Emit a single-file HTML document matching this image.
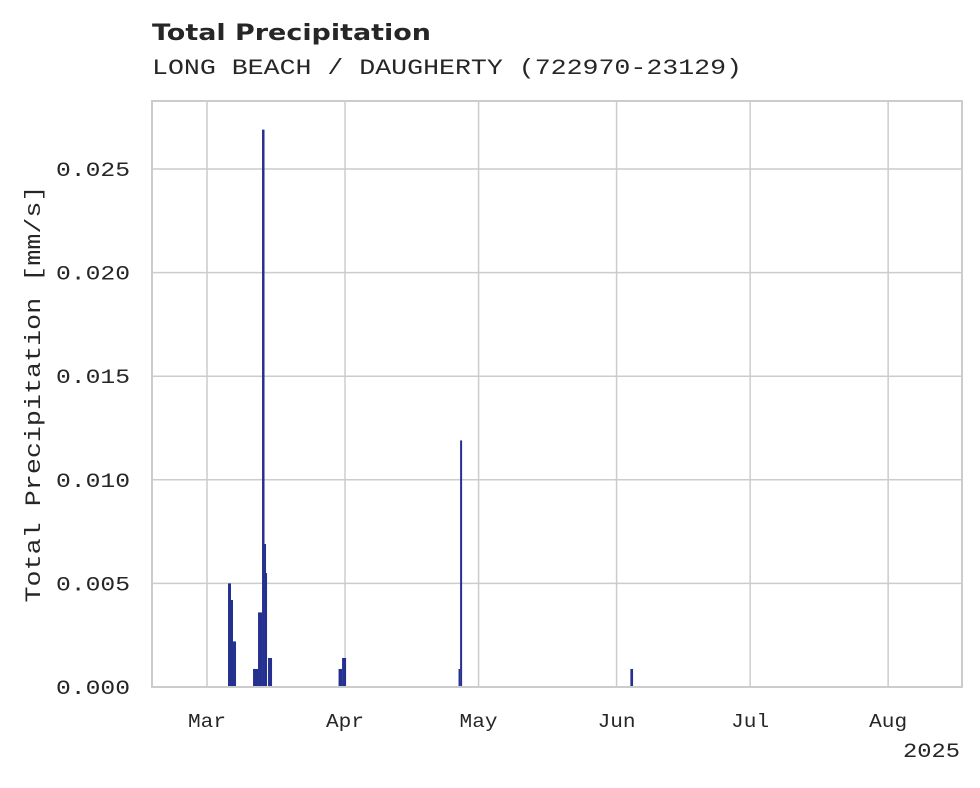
<!DOCTYPE html>
<html><head><meta charset="utf-8"><style>
body{margin:0;background:#fff;width:980px;height:783px;overflow:hidden}
text{font-family:"Liberation Mono",monospace;fill:#262626}
</style></head><body>
<svg id="chart" width="980" height="783">
<text x="152" y="40" textLength="279" lengthAdjust="spacingAndGlyphs" style="font-family:'DejaVu Sans',sans-serif;font-weight:bold;font-size:22px">Total Precipitation</text>
<text x="152" y="74" font-size="22" textLength="590" lengthAdjust="spacingAndGlyphs">LONG BEACH / DAUGHERTY (722970-23129)</text>
<g id="grid"></g><g id="bars"></g><g id="axes"></g>
<text transform="translate(40,394) rotate(-90)" text-anchor="middle" font-size="22" textLength="417" lengthAdjust="spacingAndGlyphs">Total Precipitation [mm/s]</text>
<text x="960" y="757" text-anchor="end" font-size="20" textLength="57" lengthAdjust="spacingAndGlyphs">2025</text>
</svg>
<script>
const monthLabels=["Mar","Apr","May","Jun","Jul","Aug"];
const monthDays=[0,31,61,92,122,153];
const yTicks=[0,0.005,0.010,0.015,0.020,0.025];
const yTickLabels=["0.000","0.005","0.010","0.015","0.020","0.025"];
const barStart=[4.72,5.39,5.84,10.34,11.46,12.36,12.92,13.15,13.71,29.55,30.34,56.5,56.85,95.1];
const barEnd=[5.39,5.84,6.52,11.46,12.36,12.92,13.15,13.26,14.61,30.34,31.24,56.85,57.3,95.7];
const barValues=[0.005,0.0042,0.0022,0.00087,0.0036,0.0269,0.0069,0.0055,0.0014,0.00087,0.0014,0.00087,0.0119,0.00087];
const L=152,R=962,T=101,B=687;
const x=d=>207+d*4.452;
const y=v=>B-v*(687-169)/0.025;
const NS="http://www.w3.org/2000/svg";
function mk(tag,parent,attrs){const e=document.createElementNS(NS,tag);for(const k in attrs)e.setAttribute(k,attrs[k]);parent.appendChild(e);return e;}
const grid=document.getElementById('grid'),bars=document.getElementById('bars'),axes=document.getElementById('axes');
yTicks.forEach((v,i)=>{
 const g=mk('line',grid,{x1:L,x2:R,y1:y(v),y2:y(v),stroke:'#cccccc','stroke-width':1.5});
 
 
 const t=mk('text',axes,{x:130,y:y(v)+7,'text-anchor':'end','font-size':20,textLength:74,lengthAdjust:'spacingAndGlyphs'});
 t.textContent=yTickLabels[i];
 
 
});
monthDays.forEach((d,i)=>{
 const g=mk('line',grid,{x1:x(d),x2:x(d),y1:T,y2:B,stroke:'#cccccc','stroke-width':1.5});
 
 
 const t=mk('text',axes,{x:x(d),y:727,'text-anchor':'middle','font-size':19,textLength:38,lengthAdjust:'spacingAndGlyphs'});
 t.textContent=monthLabels[i];
 
 
});
barValues.forEach((v,i)=>{
 const r=mk('rect',bars,{x:x(barStart[i]),y:y(v),width:Math.max(1.5,x(barEnd[i])-x(barStart[i])),height:B-y(v),fill:'#25318f'});
 
 
});
const f=mk('rect',axes,{x:L,y:T,width:R-L,height:B-T,fill:'none',stroke:'#cccccc','stroke-width':2});


</script>
</body></html>
